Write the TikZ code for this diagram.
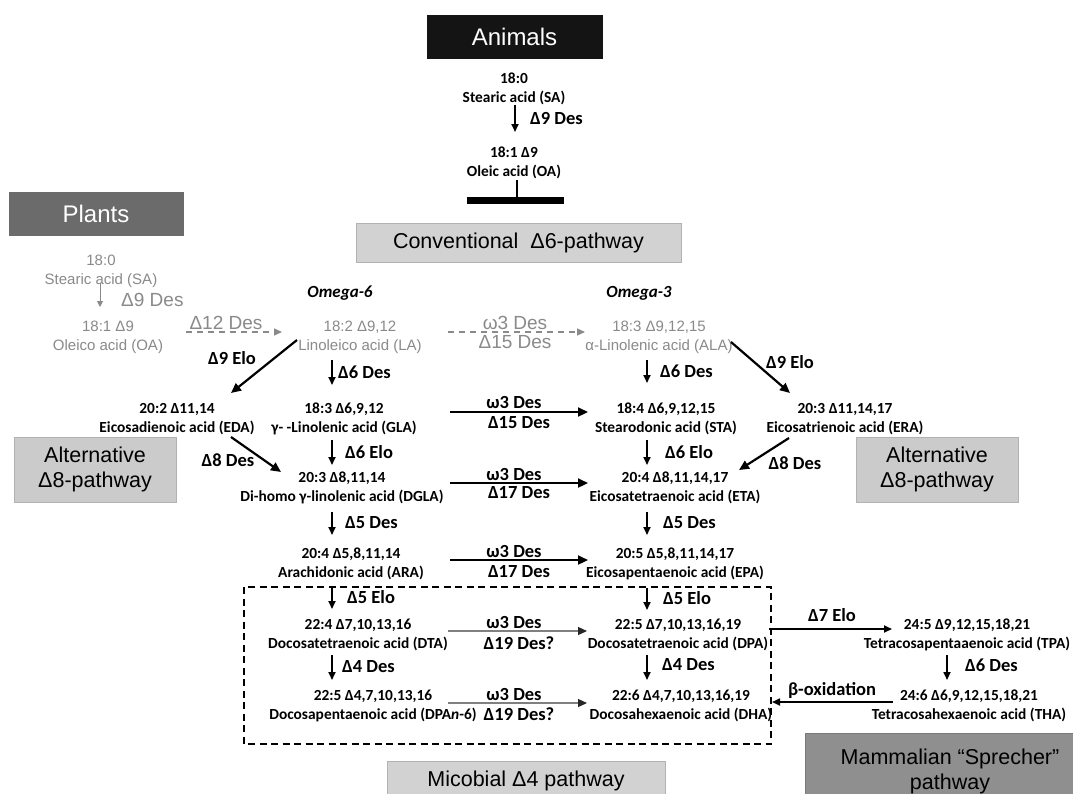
\documentclass[tikz,border=0pt]{standalone}
\usepackage{fontspec}
\setmainfont{Liberation Sans}
\newfontfamily\calib{Carlito}
\usetikzlibrary{calc,arrows.meta}
\definecolor{plgray}{HTML}{8A8A8A}
\definecolor{boxgray}{HTML}{D2D2D2}
\definecolor{altgray}{HTML}{CBCBCB}
\definecolor{mamgray}{HTML}{8F8F8F}
\definecolor{plantgray}{HTML}{6B6B6B}
\definecolor{animblack}{HTML}{141414}

\begin{document}
\begin{tikzpicture}[x=1pt,y=-1pt]

      %styles
      \tikzset{
      acid/.style={font=\calib\bfseries\fontsize{15.4}{19}\selectfont, align=center, inner sep=0pt},
      pacid/.style={font=\fontsize{15}{19}\selectfont, text=plgray, align=center, inner sep=0pt},
      enz/.style={font=\calib\bfseries\fontsize{18.5}{20}\selectfont, inner sep=0pt},
      penz/.style={font=\fontsize{19}{20}\selectfont, text=plgray, inner sep=0pt},
      omega/.style={font=\calib\bfseries\itshape\fontsize{17}{20}\selectfont, inner sep=0pt},
      pathbox/.style={fill=boxgray, draw=boxgray!85!black, line width=0.6pt, font=\fontsize{21.5}{25}\selectfont, align=center, inner sep=0pt},
      vflow/.style={-{Triangle[length=8pt,width=7pt]}, line width=1.7pt},
      hflow/.style={-{Triangle[length=10pt,width=9pt]}, line width=2.2pt},
      gflow/.style={-{Triangle[length=9pt,width=8pt,color=black!85]}, line width=1.3pt, draw=gray},
      pflow/.style={-{Triangle[length=6pt,width=6pt]}, line width=1pt, draw=plgray},
      pdash/.style={-{Triangle[length=8pt,width=7pt]}, line width=1.4pt, draw=plgray, dash pattern=on 6pt off 5pt},
      }

      \useasboundingbox (0,0) rectangle (1073,793);
      \fill[white] (0,0) rectangle (1073,793);

      %animals
      \node[pathbox, fill=animblack, draw=animblack, text=white, font=\fontsize{24}{26}\selectfont,
        minimum width=175pt, minimum height=43pt] (animals) at (514.5,36.5) {Animals};
      \node[acid] (SAa) at (514,89) {18:0\\Stearic acid (SA)};
      \node[acid] (OAa) at (514,162.5) {18:1 Δ9\\Oleic acid (OA)};
      \draw[vflow] ($(SAa)+(1,16)$) -- ($(OAa)+(1,-30.5)$);
      \node[enz, anchor=west] (d9a) at (530,118) {Δ9 Des};
      %block
      \coordinate (tb) at (517,200);
      \draw[line width=2pt] ($(OAa)+(3,17.5)$) -- (tb);
      \draw[line width=7pt] (467,200) -- (564,200);
      \node[pathbox, minimum width=325pt, minimum height=39pt] (conv) at (518.5,242.5) {Conventional\ \ Δ6-pathway};

      %plants
      \node[pathbox, fill=plantgray, draw=plantgray, text=white, font=\fontsize{24}{26}\selectfont,
        minimum width=174pt, minimum height=43pt] (plants) at (96,213.5) {Plants};
      \node[pacid] (SAp) at (101,271) {18:0\\Stearic acid (SA)};
      \node[pacid] (OAp) at (108,337) {18:1 Δ9\\Oleico acid (OA)};
      \draw[pflow] ($(SAp)+(-1,12)$) -- ($(OAp)+(-8,-30)$);
      \node[penz, anchor=west] (d9p) at (121,300) {Δ9 Des};

      %omega-6 / omega-3
      \node[omega] (om6) at (340,293) {Omega-6};
      \node[omega] (om3) at (639,293) {Omega-3};

      %row A
      \node[pacid] (LA) at (360,337.5) {18:2 Δ9,12\\Linoleico acid (LA)};
      \node[pacid] (ALA) at (659,337.5) {18:3 Δ9,12,15\\α-Linolenic acid (ALA)};
      \draw[pdash] ($(OAp)+(78,-5)$) -- ($(LA)+(-78,-5.5)$);
      \node[penz] (d12) at (226,323) {Δ12 Des};
      \draw[pdash] ($(LA)+(88,-5.5)$) -- ($(ALA)+(-74,-5.5)$);
      \node[penz] (w3a) at (515,323) {ω3 Des};
      \node[penz] (d15a) at (515,342) {Δ15 Des};

      %row B
      \node[acid] (EDA) at (177,419) {20:2 Δ11,14\\Eicosadienoic acid (EDA)};
      \node[acid] (GLA) at (344,419) {18:3 Δ6,9,12\\γ- -Linolenic acid (GLA)};
      \node[acid] (STA) at (666,419) {18:4 Δ6,9,12,15\\Stearodonic acid (STA)};
      \node[acid] (ERA) at (845,419) {20:3 Δ11,14,17\\Eicosatrienoic acid (ERA)};
      \draw[vflow] ($(LA)+(-28,22.5)$) -- ($(GLA)+(-12,-34)$);
      \node[enz, anchor=west] at (338,372) {Δ6 Des};
      \draw[vflow] ($(ALA)+(-12,22.5)$) -- ($(STA)+(-19,-36)$);
      \node[enz, anchor=west] at (660,371) {Δ6 Des};
      \draw[hflow] ($(LA)+(-63,2.5)$) -- ($(EDA)+(54,-26)$);
      \node[enz] at (232,358) {Δ9 Elo};
      \draw[hflow] ($(ALA)+(72,4.5)$) -- ($(ERA)+(-55,-26)$);
      \node[enz] at (790,362) {Δ9 Elo};
      \draw[hflow] ($(GLA)+(106,-7)$) -- ($(STA)+(-78,-7)$);
      \node[enz] at (514,402) {ω3 Des};
      \node[enz] at (519,423) {Δ15 Des};

      %alternative pathway boxes
      \node[pathbox, fill=altgray, minimum width=162pt, minimum height=65pt] (altL) at (95,469.5) {Alternative\\Δ8-pathway};
      \node[pathbox, fill=altgray, minimum width=162pt, minimum height=65pt] (altR) at (937,469.5) {Alternative\\Δ8-pathway};

      %row C
      \node[acid] (DGLA) at (342,487.5) {20:3 Δ8,11,14\\Di-homo γ-linolenic acid (DGLA)};
      \node[acid] (ETA) at (675,487.5) {20:4 Δ8,11,14,17\\Eicosatetraenoic acid (ETA)};
      \draw[vflow] ($(GLA)+(-12,21)$) -- ($(DGLA)+(-10,-22.5)$);
      \node[enz, anchor=west] at (345,452) {Δ6 Elo};
      \draw[vflow] ($(STA)+(-19,21)$) -- ($(ETA)+(-28,-22.5)$);
      \node[enz, anchor=west] at (665,452) {Δ6 Elo};
      \draw[hflow] ($(EDA)+(54,18)$) -- ($(DGLA)+(-61,-15.5)$);
      \node[enz] at (228,460) {Δ8 Des};
      \draw[hflow] ($(ERA)+(-56,19)$) -- ($(ETA)+(64,-17.5)$);
      \node[enz] at (795,463) {Δ8 Des};
      \draw[hflow] ($(DGLA)+(108,-4.5)$) -- ($(ETA)+(-87,-4.5)$);
      \node[enz] at (514,474) {ω3 Des};
      \node[enz] at (519,493) {Δ17 Des};

      %row D
      \node[acid] (ARA) at (351,564) {20:4 Δ5,8,11,14\\Arachidonic acid (ARA)};
      \node[acid] (EPA) at (675,564) {20:5 Δ5,8,11,14,17\\Eicosapentaenoic acid (EPA)};
      \draw[vflow] ($(DGLA)+(-10,24.5)$) -- ($(ARA)+(-19,-29)$);
      \node[enz, anchor=west] at (345,523) {Δ5 Des};
      \draw[vflow] ($(ETA)+(-28,24.5)$) -- ($(EPA)+(-28,-29)$);
      \node[enz, anchor=west] at (663,523) {Δ5 Des};
      \draw[hflow] ($(ARA)+(99,-4)$) -- ($(EPA)+(-87,-4)$);
      \node[enz] at (514,551) {ω3 Des};
      \node[enz] at (519,572) {Δ17 Des};

      %microbial frame
      \draw[line width=2.5pt, dash pattern=on 7pt off 4.5pt] (244,587) rectangle (771,744);

      %row E
      \node[acid] (DTA) at (358,634.5) {22:4 Δ7,10,13,16\\Docosatetraenoic acid (DTA)};
      \node[acid] (DPA) at (678,634.5) {22:5 Δ7,10,13,16,19\\Docosatetraenoic acid (DPA)};
      \node[acid] (TPA) at (967,634.5) {24:5 Δ9,12,15,18,21\\Tetracosapentaaenoic acid (TPA)};
      \draw[vflow] ($(ARA)+(-19,24)$) -- ($(DTA)+(-26,-25.5)$);
      \node[enz, anchor=west] at (347,597) {Δ5 Elo};
      \draw[vflow] ($(EPA)+(-28,24)$) -- ($(DPA)+(-31,-24.5)$);
      \node[enz, anchor=west] at (663,598) {Δ5 Elo};
      \draw[gflow] ($(DTA)+(90,-3.5)$) -- ($(DPA)+(-91,-3.5)$);
      \node[enz] at (514,622) {ω3 Des};
      \node[enz] at (519,643) {Δ19 Des?};
      \draw[vflow] ($(DPA)+(91,-5.5)$) -- ($(TPA)+(-75,-5.5)$);
      \node[enz] at (832,615) {Δ7 Elo};

      %row F
      \node[acid] (DPAn) at (373,705.5) {22:5 Δ4,7,10,13,16\\Docosapentaenoic acid (DPA{\itshape n}-6)};
      \node[acid] (DHA) at (681,705.5) {22:6 Δ4,7,10,13,16,19\\Docosahexaenoic acid (DHA)};
      \node[acid] (THA) at (969,705.5) {24:6 Δ6,9,12,15,18,21\\Tetracosahexaenoic acid (THA)};
      \draw[vflow] ($(DTA)+(-26,20.5)$) -- ($(DPAn)+(-41,-25.5)$);
      \node[enz, anchor=west] at (342,667) {Δ4 Des};
      \draw[vflow] ($(DPA)+(-31,20.5)$) -- ($(DHA)+(-34,-25.5)$);
      \node[enz, anchor=west] at (662,665) {Δ4 Des};
      \draw[vflow] ($(TPA)+(-20,20.5)$) -- ($(THA)+(-22,-25.5)$);
      \node[enz, anchor=west] at (965,665) {Δ6 Des};
      \draw[gflow] ($(DPAn)+(75,-2.5)$) -- ($(DHA)+(-94,-2.5)$);
      \node[enz] at (514,694) {ω3 Des};
      \node[enz] at (519,714) {Δ19 Des?};
      \draw[vflow] ($(THA)+(-76,-3.5)$) -- ($(DHA)+(91,-3.5)$);
      \node[enz] at (832,690) {β-oxidation};

      %bottom boxes
      \node[pathbox, minimum width=278pt, minimum height=40pt] (micro) at (526,781) {Micobial Δ4 pathway};
      \node[pathbox, fill=mamgray, draw=mamgray!85!black, minimum width=290pt, minimum height=77pt] (mammal) at (950,771.5) {Mammalian “Sprecher”\\pathway};
    \end{tikzpicture}
\end{document}
